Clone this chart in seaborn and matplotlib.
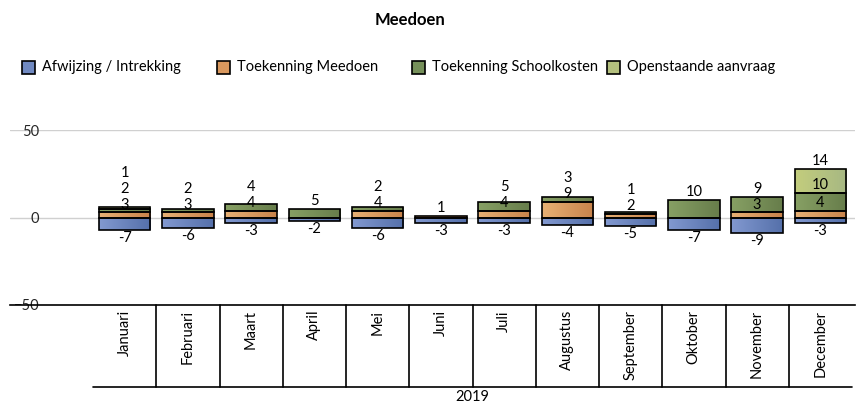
import numpy as np
import pandas as pd
import matplotlib
matplotlib.use("Agg")
import matplotlib.pyplot as plt
import matplotlib.patches as mpatches
import matplotlib.transforms as mtrans
from matplotlib.colors import LinearSegmentedColormap
import seaborn as sns

# data
months = ["Januari", "Februari", "Maart", "April", "Mei", "Juni", "Juli",
          "Augustus", "September", "Oktober", "November", "December"]
afwijzing = [-7, -6, -3, -2, -6, -3, -3, -4, -5, -7, -9, -3]
meedoen = [3, 3, 4, 0, 4, 1, 4, 9, 2, 0, 3, 4]
schoolkosten = [2, 2, 4, 5, 2, 0, 5, 3, 1, 10, 9, 10]
openstaand = [1, 0, 0, 0, 0, 0, 0, 0, 0, 0, 0, 14]
year_label = "2019"

series_names = ["Afwijzing / Intrekking", "Toekenning Meedoen",
                "Toekenning Schoolkosten", "Openstaande aanvraag"]
# gradient colours (left -> right) and legend colour
grad = [("#8299d0", "#5570aa"), ("#e7b074", "#c8834b"),
        ("#87a064", "#677d4b"), ("#c3cd7d", "#a7b883")]
solid = ["#7089c1", "#d9985e", "#76905a", "#b4c07e"]

sns.set_style("white")
plt.rcParams["font.family"] = ["Lato", "DejaVu Sans"]

W, H = 859, 405
fig = plt.figure(figsize=(W / 100, H / 100), dpi=100)
ax = fig.add_axes([10 / W, (H - 305) / H, 845 / W, 175 / H])

df = pd.DataFrame({"month": months})
bar_w = 0.815
pos_series = [meedoen, schoolkosten, openstaand]

# negative series
sns.barplot(x=df["month"], y=afwijzing, color=solid[0], width=bar_w,
            saturation=1, edgecolor="black", linewidth=1.2, ax=ax)
seg_colors = [grad[0]] * len(months)
# positive stacked series
cum = np.zeros(len(months))
for k, vals in enumerate(pos_series):
    sns.barplot(x=df["month"], y=vals, bottom=cum.copy(), color=solid[k + 1],
                width=bar_w, saturation=1, edgecolor="black", linewidth=1.2, ax=ax)
    seg_colors += [grad[k + 1]] * len(months)
    cum = cum + np.array(vals)

# gradient fill for each bar segment, hide empty segments
bars = [p for p in ax.patches if isinstance(p, mpatches.Rectangle)]
for p, (c1, c2) in zip(bars, seg_colors):
    if p.get_height() == 0:
        p.set_visible(False)
        continue
    x0 = p.get_x()
    y0 = p.get_y()
    cmap = LinearSegmentedColormap.from_list("g", [c1, c2])
    im = ax.imshow(np.linspace(0, 1, 64).reshape(1, -1), cmap=cmap, aspect="auto",
                   extent=[x0, x0 + p.get_width(), y0, y0 + p.get_height()],
                   zorder=p.get_zorder() - 0.05, interpolation="bilinear")
    im.set_clip_path(p)
    p.set_facecolor("none")

# value labels, nudged upward when they would collide
for i in range(len(months)):
    top = 0
    prev = -99
    for vals in pos_series:
        v = vals[i]
        top += v
        if v == 0:
            continue
        y = max(top + 4.3, prev + 9.2)
        prev = y
        ax.text(i, y, str(v), ha="center", va="center", fontsize=10.5,
                color="black", zorder=5)
    ax.text(i, afwijzing[i] - 4.6, str(afwijzing[i]), ha="center", va="center",
            fontsize=10.5, color="black", zorder=5)

ax.set_ylim(-50, 50)
ax.set_xlim(-0.5 - 83 / 63.25, 11.5 + 3 / 63.25)
ax.set_yticks([-50, 0, 50])
ax.yaxis.grid(True, color="#d0d0d0", linewidth=1)
ax.set_axisbelow(True)
for s in ["top", "right", "left"]:
    ax.spines[s].set_visible(False)
ax.spines["bottom"].set_color("black")
ax.spines["bottom"].set_linewidth(1.2)
ax.tick_params(axis="y", length=0, pad=-21, labelsize=10.5, labelcolor="#262626")
ax.set_xticks([])
ax.set_xlabel("")
ax.set_ylabel("")

# multi-level category axis
tr = mtrans.blended_transform_factory(ax.transData, ax.transAxes)
ybot = (305 - 387) / 175
for b in np.arange(0.5, len(months) - 1, 1.0):
    ax.plot([b, b], [0, ybot], color="black", lw=1.2, transform=tr, clip_on=False)
ax.plot([-0.5, len(months) - 0.5], [ybot, ybot], color="black", lw=1.2,
        transform=tr, clip_on=False)
for i, m in enumerate(months):
    ax.text(i, -5 / 175, m, rotation=90, ha="center", va="top", fontsize=10.5,
            color="black", transform=tr)
ax.text((len(months) - 1) / 2, (305 - 397) / 175, year_label, ha="center",
        va="center", fontsize=10.5, color="black", transform=tr)

# title and legend
fig.text(410 / W, 1 - 20 / H, "Meedoen", ha="center", va="center",
         fontsize=12, fontweight="bold", color="black")
for k, name in enumerate(series_names):
    x = 22 + 195 * k
    fig.patches.append(mpatches.Rectangle((x / W, 1 - 74 / H), 13 / W, 13 / H,
                                          transform=fig.transFigure, facecolor=solid[k],
                                          edgecolor="black", linewidth=1.2))
    fig.text((x + 20) / W, 1 - 67 / H, name, ha="left", va="center",
             fontsize=10.5, color="black")

fig.savefig("out.png", dpi=100)
